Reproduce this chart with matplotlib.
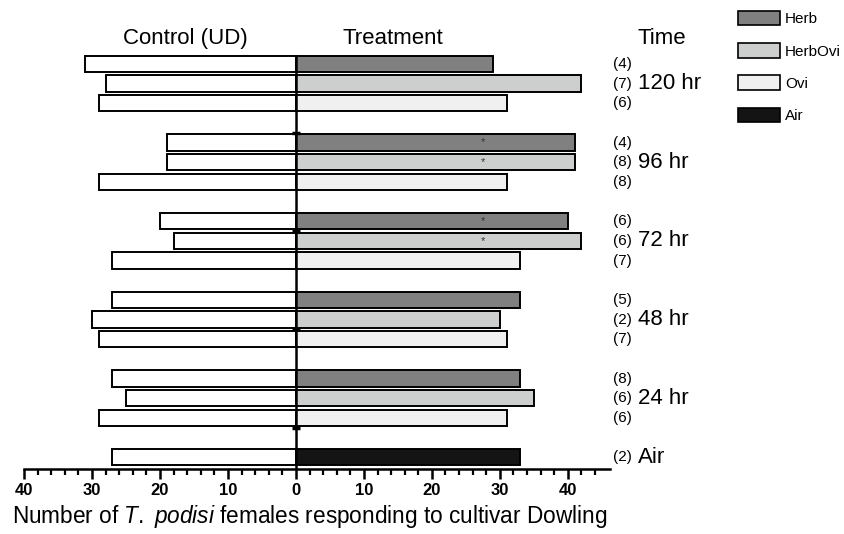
import numpy as np
import matplotlib
matplotlib.use('Agg')
import matplotlib.pyplot as plt
from matplotlib.patches import Patch

plt.rcParams['font.family'] = ['Liberation Sans', 'DejaVu Sans']
plt.rcParams['mathtext.fontset'] = 'custom'
plt.rcParams['mathtext.rm'] = 'Liberation Sans'
plt.rcParams['mathtext.it'] = 'Liberation Sans:italic'

# data, bottom group first
times = ['Air', '24 hr', '48 hr', '72 hr', '96 hr', '120 hr']
treatments = ['Ovi', 'HerbOvi', 'Herb']   # order from bottom to top in each group
treat_colors = {'Herb': '#808080', 'HerbOvi': '#cdcfce', 'Ovi': '#f0f0f0', 'Air': '#141414'}

# control (UD) counts, per time, ordered Ovi, HerbOvi, Herb
control = {
    '24 hr': [29, 25, 27],
    '48 hr': [29, 30, 27],
    '72 hr': [27, 18, 20],
    '96 hr': [29, 19, 19],
    '120 hr': [29, 28, 31],
}
treated = {
    '24 hr': [31, 35, 33],
    '48 hr': [31, 30, 33],
    '72 hr': [33, 42, 40],
    '96 hr': [31, 41, 41],
    '120 hr': [31, 42, 29],
}
n_reps = {
    '24 hr': ['(6)', '(6)', '(8)'],
    '48 hr': ['(7)', '(2)', '(5)'],
    '72 hr': ['(7)', '(6)', '(6)'],
    '96 hr': ['(8)', '(8)', '(4)'],
    '120 hr': ['(6)', '(7)', '(4)'],
}
signif = {
    '72 hr': [False, True, True],
    '96 hr': [False, True, True],
}
air_control = 27
air_treated = 33
air_n = '(2)'

fig = plt.figure(figsize=(8.45, 5.34), dpi=100)
ax = fig.add_axes([24 / 845, 1 - 469 / 534, (610 - 24) / 845, (469 - 55) / 534])

h = 0.82
lw = 1.4
count_x = 46.6
time_x = 50.3
big = 16

# Air
ax.barh(0, -air_control, height=h, color='white', edgecolor='black', linewidth=lw)
ax.barh(0, air_treated, height=h, color=treat_colors['Air'], edgecolor='black', linewidth=lw)
ax.text(count_x, 0, air_n, fontsize=11, va='center', ha='left', clip_on=False)
ax.text(time_x, 0, 'Air', fontsize=big, va='center', ha='left', clip_on=False)

for gi, t in enumerate(times[1:]):
    base = 2 + 4 * gi
    for j, tr in enumerate(treatments):
        y = base + j
        ax.barh(y, -control[t][j], height=h, color='white', edgecolor='black', linewidth=lw)
        ax.barh(y, treated[t][j], height=h, color=treat_colors[tr], edgecolor='black', linewidth=lw)
        ax.text(count_x, y, n_reps[t][j], fontsize=11, va='center', ha='left', clip_on=False)
        if t in signif and signif[t][j]:
            ax.text(27.5, y, '*', fontsize=8, va='center', ha='center', color='#333333')
    ax.text(time_x, base + 1, t, fontsize=big, va='center', ha='left', clip_on=False)

ax.text(time_x, 21.3, 'Time', fontsize=big, va='center', ha='left', clip_on=False)
ax.text(-16.3, 21.3, 'Control (UD)', fontsize=big, va='center', ha='center', clip_on=False)
ax.text(14.3, 21.3, 'Treatment', fontsize=big, va='center', ha='center', clip_on=False)

ax.set_xlim(-40, 46.2)
ax.set_ylim(-0.6, 20.45)

# central axis line
ax.axvline(0, color='black', linewidth=1.8, zorder=5)
for yt in [1.5, 6.5, 11.5, 16.5]:
    ax.plot([-0.6, 0.6], [yt, yt], color='black', linewidth=2.5, zorder=6, solid_capstyle='butt')

for s in ['left', 'right', 'top']:
    ax.spines[s].set_visible(False)
ax.spines['bottom'].set_linewidth(1.8)
ax.set_yticks([])

major = np.arange(-40, 41, 10)
ax.set_xticks(major)
ax.set_xticklabels([str(abs(v)) for v in major], fontsize=12, fontweight='bold')
ax.set_xticks(np.arange(-40, 46, 2), minor=True)
ax.tick_params(axis='x', which='major', length=7, width=1.8, direction='out', pad=3)
ax.tick_params(axis='x', which='minor', length=4, width=1.6, direction='out')

ax.set_xlabel(r'Number of $\it{T.}$ $\it{podisi}$ females responding to cultivar Dowling',
              fontsize=16.3, labelpad=4, x=0.487)

handles = [Patch(facecolor=treat_colors[k], edgecolor='black', linewidth=1.2, label=k)
           for k in ['Herb', 'HerbOvi', 'Ovi', 'Air']]
fig.legend(handles=handles, loc='upper left', bbox_to_anchor=(727 / 845, 1.0),
           frameon=False, fontsize=11, handlelength=2.8, handleheight=1.1,
           labelspacing=1.1, handletextpad=0.3, borderaxespad=0.3)

fig.savefig('out.png', dpi=100)
